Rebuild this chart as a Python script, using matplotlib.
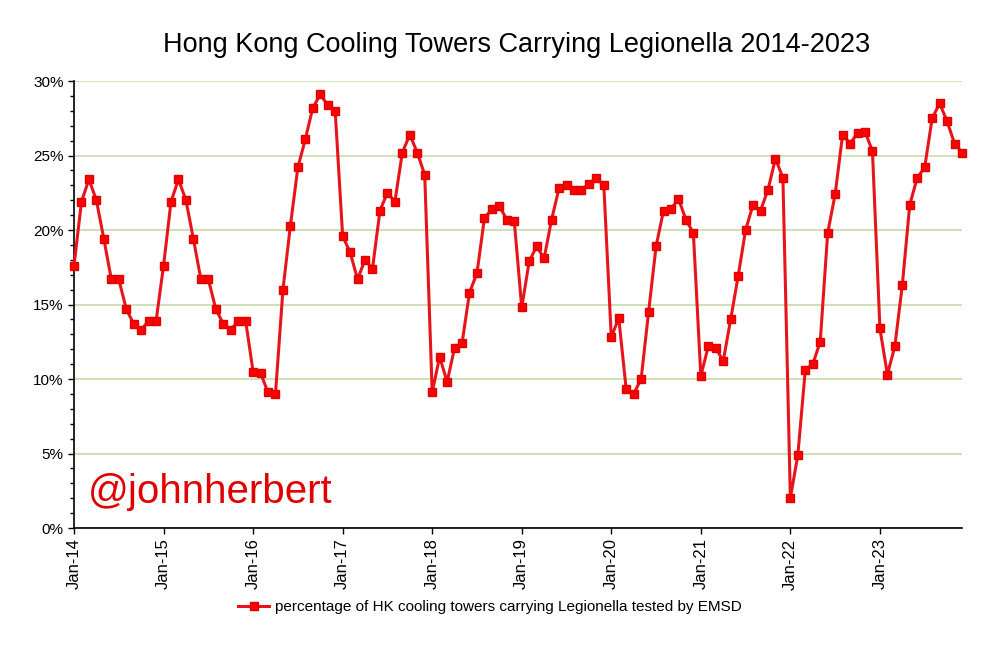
import numpy as np
import matplotlib.pyplot as plt
from matplotlib.ticker import MultipleLocator, FuncFormatter

# monthly percentage, Jan 2014 .. Dec 2023
y2014 = [17.6, 21.9, 23.4, 22.0, 19.4, 16.7, 16.7, 14.7, 13.7, 13.3, 13.9, 13.9]
y2015 = [17.6, 21.9, 23.4, 22.0, 19.4, 16.7, 16.7, 14.7, 13.7, 13.3, 13.9, 13.9]
y2016 = [10.5, 10.4, 9.1, 9.0, 16.0, 20.3, 24.2, 26.1, 28.2, 29.1, 28.4, 28.0]
y2017 = [19.6, 18.5, 16.7, 18.0, 17.4, 21.3, 22.5, 21.9, 25.2, 26.4, 25.2, 23.7]
y2018 = [9.1, 11.5, 9.8, 12.1, 12.4, 15.8, 17.1, 20.8, 21.4, 21.6, 20.7, 20.6]
y2019 = [14.8, 17.9, 18.9, 18.1, 20.7, 22.8, 23.0, 22.7, 22.7, 23.1, 23.5, 23.0]
y2020 = [12.8, 14.1, 9.3, 9.0, 10.0, 14.5, 18.9, 21.3, 21.4, 22.1, 20.7, 19.8]
y2021 = [10.2, 12.2, 12.1, 11.2, 14.0, 16.9, 20.0, 21.7, 21.3, 22.7, 24.8, 23.5]
y2022 = [2.0, 4.9, 10.6, 11.0, 12.5, 19.8, 22.4, 26.4, 25.8, 26.5, 26.6, 25.3]
y2023 = [13.4, 10.3, 12.2, 16.3, 21.7, 23.5, 24.2, 27.5, 28.5, 27.3, 25.8, 25.2]

years = ["14", "15", "16", "17", "18", "19", "20", "21", "22", "23"]
tick_labels = ["Jan-" + y for y in years]

values = np.array(y2014 + y2015 + y2016 + y2017 + y2018 +
                  y2019 + y2020 + y2021 + y2022 + y2023) / 100
months = np.arange(len(values))

plt.rcParams['font.family'] = ['Liberation Sans', 'DejaVu Sans']

fig = plt.figure(figsize=(10, 6.62), dpi=100)
ax = fig.add_axes([0.074, 0.2024, 0.888, 0.6752])

ax.plot(months, values, color="#e8141c", lw=2.2, marker="s", ms=5.2,
        mfc="#ff0000", mec="#e00000", clip_on=False, zorder=3,
        label="percentage of HK cooling towers carrying Legionella tested by EMSD")

ax.set_xlim(0, len(values) - 1)
ax.set_ylim(0, 0.30)
ax.yaxis.set_major_locator(MultipleLocator(0.05))
ax.yaxis.set_minor_locator(MultipleLocator(0.01))
ax.yaxis.set_major_formatter(FuncFormatter(lambda v, p: f"{v*100:.0f}%"))
ax.set_xticks(months[::12])
ax.set_xticklabels(tick_labels, rotation=90)

ax.grid(axis="y", color="#c5dba9", lw=1.2)
ax.set_axisbelow(True)
for s in ["top", "right"]:
    ax.spines[s].set_visible(False)
ax.spines["left"].set_linewidth(1.2)
ax.spines["bottom"].set_linewidth(1.2)
ax.tick_params(axis="y", which="major", labelsize=11, length=4, width=1)
ax.tick_params(axis="x", which="major", labelsize=12, length=4, width=1)
ax.tick_params(axis="y", which="minor", length=3, width=1)

ax.text(0.016, 0.056, "@johnherbert", transform=ax.transAxes, fontsize=29,
        color="#e00000", zorder=4)

fig.suptitle("Hong Kong Cooling Towers Carrying Legionella 2014-2023",
             x=0.517, y=0.952, fontsize=19.5)
fig.legend(loc="center", bbox_to_anchor=(0.49, 0.083), frameon=False,
           fontsize=11, handlelength=2, handletextpad=0.4)

plt.savefig("out.png", dpi=100)
